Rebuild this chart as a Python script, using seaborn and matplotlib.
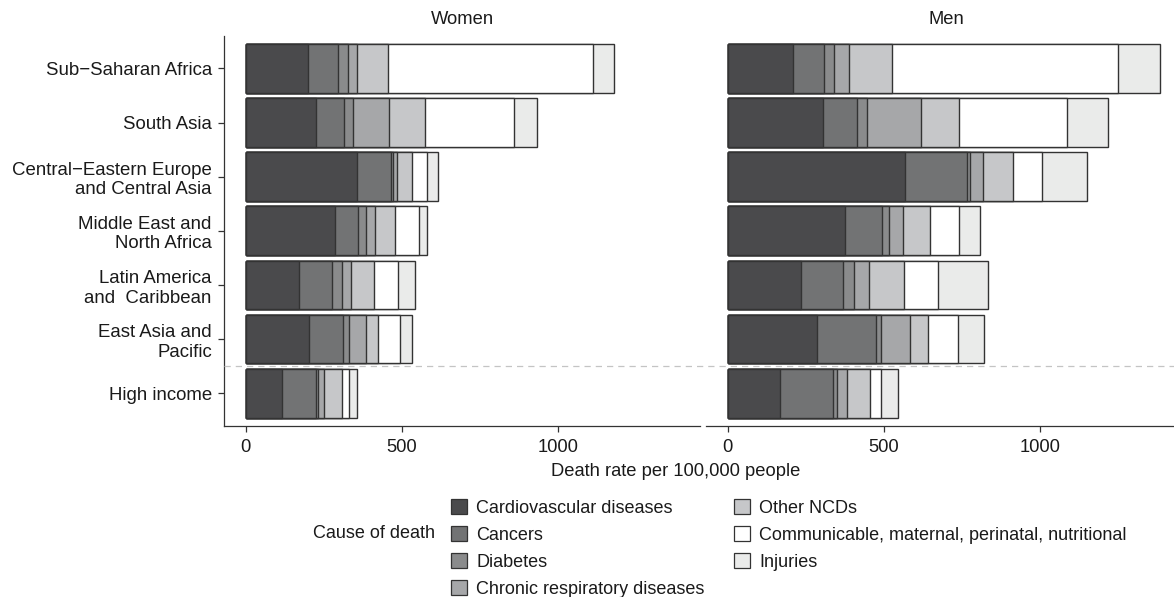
import numpy as np
import pandas as pd
import matplotlib
matplotlib.use("Agg")
import matplotlib.pyplot as plt
from matplotlib.patches import Patch
from matplotlib.lines import Line2D
import seaborn as sns

# ---------------- data ----------------
regions = ["Sub\u2212Saharan Africa", "South Asia",
           "Central\u2212Eastern Europe\nand Central Asia",
           "Middle East and\nNorth Africa", "Latin America\nand  Caribbean",
           "East Asia and\nPacific", "High income"]
causes = ["Cardiovascular diseases", "Cancers", "Diabetes",
          "Chronic respiratory diseases", "Other NCDs",
          "Communicable, maternal, perinatal, nutritional", "Injuries"]
sexes = ["Women", "Men"]

women_cvd = [199, 226, 356, 286, 171, 202, 117]
women_cancer = [95, 89, 108, 74, 104, 109, 107]
women_diabetes = [34, 27, 8, 26, 33, 19, 8]
women_resp = [28, 115, 11, 28, 29, 56, 19]
women_other = [99, 118, 48, 63, 73, 37, 57]
women_comm = [657, 283, 49, 78, 78, 71, 23]
women_injuries = [67, 75, 36, 26, 53, 37, 24]

men_cvd = [208, 305, 568, 374, 234, 286, 166]
men_cancer = [101, 107, 198, 119, 136, 187, 171]
men_diabetes = [32, 32, 8, 23, 34, 17, 14]
men_resp = [48, 174, 41, 44, 47, 93, 30]
men_other = [137, 121, 98, 88, 114, 58, 75]
men_comm = [721, 347, 93, 92, 107, 96, 34]
men_injuries = [136, 129, 144, 66, 162, 82, 56]

colors = ["#4a4a4c", "#727374", "#8a8b8c", "#a6a7a9", "#c6c7c9", "#ffffff", "#eaebea"]

series = {
    "Women": [women_cvd, women_cancer, women_diabetes, women_resp,
              women_other, women_comm, women_injuries],
    "Men": [men_cvd, men_cancer, men_diabetes, men_resp,
            men_other, men_comm, men_injuries],
}

rows = []
for sex in sexes:
    arr = np.array(series[sex], dtype=float)  # causes x regions
    cum = np.cumsum(arr, axis=0)
    for ci, cause in enumerate(causes):
        for ri, reg in enumerate(regions):
            rows.append(dict(sex=sex, region=reg, cause=cause,
                             value=arr[ci, ri], cum=cum[ci, ri]))
df = pd.DataFrame(rows)

# ---------------- style ----------------
sns.set_style("ticks")
plt.rcParams["font.family"] = ["Liberation Sans", "DejaVu Sans"]
plt.rcParams["font.size"] = 13
TXT = "#1a1a1a"
EDGE = "#333333"

W, H = 1174, 597
fig = plt.figure(figsize=(W / 100, H / 100), dpi=100)

def fx(px):
    return px / W

def fy(py):
    return 1 - py / H

ax_top, ax_bot = 36, 425.7
axW = fig.add_axes([fx(224), fy(ax_bot), fx(476), (ax_bot - ax_top) / H])
axM = fig.add_axes([fx(706), fy(ax_bot), fx(476), (ax_bot - ax_top) / H])

for ax, sex in [(axW, "Women"), (axM, "Men")]:
    sub = df[df.sex == sex]
    for ci in range(len(causes) - 1, -1, -1):
        d = sub[sub.cause == causes[ci]]
        sns.barplot(data=d, y="region", x="cum", order=regions, orient="h",
                    color=colors[ci], saturation=1, width=0.9,
                    edgecolor=EDGE, linewidth=1.0, errorbar=None, ax=ax)
    ax.set_ylim(6.6, -0.6)
    ax.set_xlim(-69.5, 1453)
    ax.set_xticks([0, 500, 1000])
    ax.set_xlabel("")
    ax.set_ylabel("")
    for s in ["top", "right"]:
        ax.spines[s].set_visible(False)
    ax.spines["bottom"].set_color(EDGE)
    ax.spines["bottom"].set_linewidth(0.9)
    ax.spines["left"].set_color(EDGE)
    ax.spines["left"].set_linewidth(0.9)
    ax.tick_params(axis="x", length=4.3, width=0.9, color=EDGE,
                   labelsize=13.2, labelcolor=TXT, pad=5)
    ax.tick_params(axis="y", length=4.3, width=0.9, color=EDGE,
                   labelsize=13.4, labelcolor=TXT, pad=4.5)
    ax.set_facecolor("none")

axM.spines["left"].set_visible(False)
axM.tick_params(axis="y", left=False, labelleft=False)

# panel titles
fig.text(fx(462), fy(20), "Women", ha="center", va="center", fontsize=13.2, color=TXT)
fig.text(fx(946), fy(20), "Men", ha="center", va="center", fontsize=13.2, color=TXT)

# x label
fig.text(fx(676), fy(472), "Death rate per 100,000 people", ha="center",
         va="center", fontsize=13.2, color=TXT)

# dashed separator
fig.add_artist(Line2D([fx(224), 1.0], [fy(365.7), fy(365.7)], transform=fig.transFigure,
                      color="#c4c4c4", linewidth=0.9, linestyle=(0, (5, 4))))

# legend
handles = [Patch(facecolor=c, edgecolor=EDGE, linewidth=0.9) for c in colors]
fig.text(fx(312.7), fy(533.5), "Cause of death", ha="left", va="center",
         fontsize=13, color=TXT)
common = dict(frameon=False, fontsize=13, handlelength=0.89, handleheight=0.89,
              handletextpad=0.5, labelspacing=0.52, borderpad=0, borderaxespad=0,
              loc="upper left", labelcolor=TXT)
leg1 = fig.legend(handles[:4], causes[:4], bbox_to_anchor=(fx(451), fy(499)), **common)
leg2 = fig.legend(handles[4:], causes[4:], bbox_to_anchor=(fx(734), fy(499)), **common)

fig.savefig("out.png", dpi=100)
